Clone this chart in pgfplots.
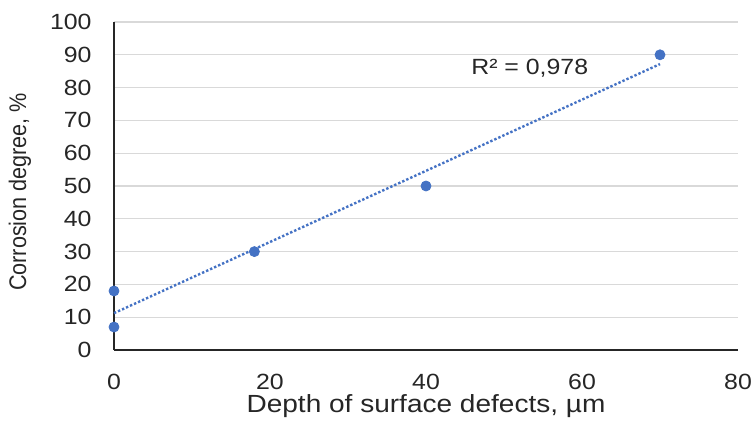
\documentclass[border=0pt]{standalone}
\usepackage{fontspec}
\setmainfont{Liberation Sans}[FakeStretch=1.13]
\newfontfamily\ylabfont{Liberation Sans}[FakeStretch=0.9]
\usepackage{pgfplots}
\pgfplotsset{compat=1.18}
\definecolor{ptBlue}{HTML}{4472C4}
\definecolor{gridGray}{HTML}{D9D9D9}
\begin{document}
\begin{tikzpicture}
\begin{axis}[
  scale only axis,
  width=312pt, height=164pt,
  xmin=0, xmax=80, ymin=0, ymax=100,
  xtick={0,20,...,80}, ytick={0,10,...,100},
  axis x line*=bottom, axis y line*=left,
  axis line style={line width=1.2pt, draw=black!85, -},
  major tick length=0pt,
  ymajorgrids, grid style={draw=gridGray, line width=0.6pt},
  tick label style={font=\fontsize{11}{13}\selectfont, text=black!85},
  /pgf/number format/assume math mode=true,
  xticklabel style={yshift=-8.5pt},
  yticklabel style={xshift=-7.7pt},
  xlabel={Depth of surface defects, µm},
  ylabel={Corrosion degree, \%},
  xlabel style={font=\fontsize{12.4}{14}\selectfont, text=black!85,
    at={(rel axis cs:0.5,-0.172)}, anchor=center},
  ylabel style={font=\ylabfont\fontsize{12}{14}\selectfont, text=black!85,
    at={(rel axis cs:-0.1506,0.482)}, anchor=center},
  clip=false,
]
\addplot[only marks, mark=*, mark size=2.5pt, color=ptBlue]
  coordinates {(0,7) (0,18) (18,30) (40,50) (70,90)};
\addplot[no marks, densely dotted, line width=1.2pt, draw=ptBlue]
  coordinates {(0,11.23) (70,87.17)};
\node[font=\fontsize{11}{13}\selectfont, text=black!85] at (axis cs:53.3,86) {R² = 0,978};
\coordinate (bl) at (rel axis cs:0,0);
\coordinate (tr) at (rel axis cs:1,1);
\end{axis}
\pgfresetboundingbox
\path ([xshift=-57pt,yshift=-41pt]bl) rectangle ([xshift=7.5pt,yshift=11pt]tr);
\end{tikzpicture}
\end{document}
